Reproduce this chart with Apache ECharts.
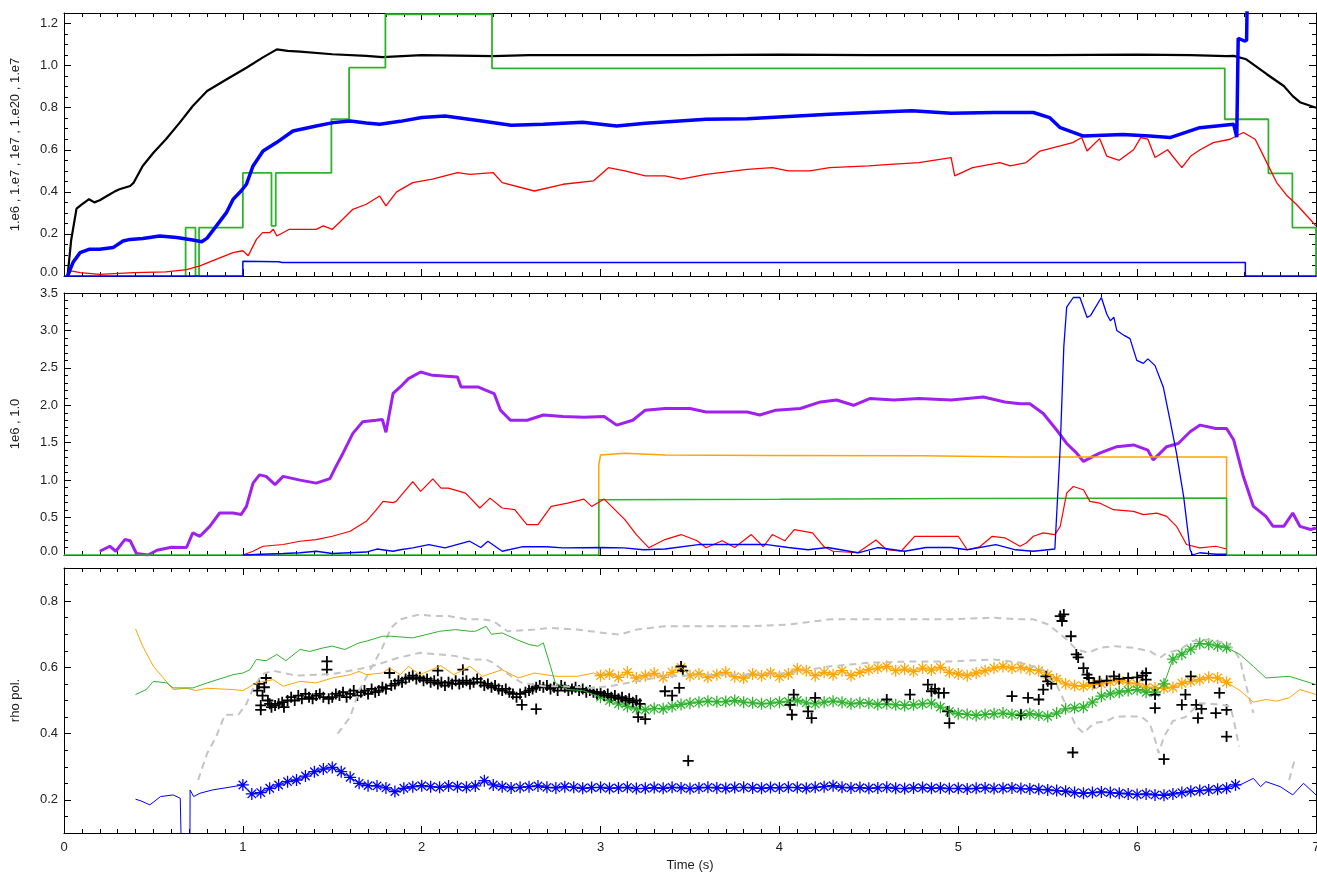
<!DOCTYPE html>
<html>
<head>
<meta charset="utf-8">
<script src="https://cdn.jsdelivr.net/npm/echarts@6/dist/echarts.min.js"></script>
<style>html,body{margin:0;padding:0;background:#fff}#c{width:1317px;height:874px}</style>
</head>
<body>
<div id="c"></div>
<script>
// ---------------- tick labels ----------------
const xMajorTicks = [0,1,2,3,4,5,6,7];
const topYTicks = [0,0.2,0.4,0.6,0.8,1.0,1.2];
const midYTicks = [0,0.5,1.0,1.5,2.0,2.5,3.0,3.5];
const botYTicks = [0.2,0.4,0.6,0.8];
const yNames = ['1.e6 , 1.e7 , 1e7 , 1.e20 , 1.e7', '1e6 , 1.0', 'rho pol.'];
const xName = 'Time (s)';

// ---------------- top panel ----------------
const topBlack = [[0.02,0],[0.04,0.17],[0.07,0.32],[0.1,0.34],[0.125,0.356],[0.14,0.365],[0.17,0.35],[0.2,0.36],[0.24,0.38],[0.28,0.40],[0.31,0.412],[0.37,0.428],[0.39,0.444],[0.44,0.523],[0.5,0.586],[0.57,0.65],[0.647,0.729],[0.72,0.808],[0.8,0.879],[0.91,0.935],[1.02,0.99],[1.11,1.038],[1.19,1.077],[1.25,1.07],[1.32,1.066],[1.5,1.054],[1.69,1.046],[1.78,1.04],[2.0,1.05],[2.4,1.045],[2.6,1.05],[3.0,1.05],[3.5,1.05],[4.0,1.052],[4.5,1.05],[5.0,1.05],[5.5,1.05],[6.0,1.052],[6.3,1.05],[6.5,1.045],[6.54,1.046],[6.61,1.03],[6.725,0.959],[6.82,0.903],[6.87,0.855],[6.91,0.826],[7.0,0.80]];
const topGreen = [[0.68,0],[0.68,0.23],[0.735,0.23],[0.735,0],[0.755,0],[0.755,0.23],[1.0,0.23],[1.0,0.49],[1.16,0.49],[1.16,0.238],[1.184,0.238],[1.184,0.49],[1.495,0.49],[1.495,0.745],[1.594,0.745],[1.594,0.99],[1.797,0.99],[1.797,1.244],[2.393,1.244],[2.393,0.987],[6.49,0.987],[6.49,0.745],[6.734,0.745],[6.734,0.488],[6.868,0.488],[6.868,0.23],[7.0,0.23],[7.0,0]];
const topRed = [[0.02,0],[0.04,0.024],[0.09,0.016],[0.2,0.008],[0.39,0.016],[0.57,0.02],[0.685,0.03],[0.76,0.048],[0.85,0.079],[0.945,0.111],[1.0,0.12],[1.03,0.096],[1.076,0.174],[1.11,0.206],[1.15,0.206],[1.17,0.222],[1.19,0.19],[1.26,0.222],[1.41,0.222],[1.45,0.238],[1.5,0.222],[1.54,0.254],[1.615,0.317],[1.69,0.341],[1.765,0.38],[1.8,0.333],[1.86,0.40],[1.95,0.444],[2.06,0.46],[2.2,0.491],[2.27,0.483],[2.4,0.491],[2.45,0.444],[2.63,0.404],[2.79,0.436],[2.96,0.452],[3.044,0.515],[3.136,0.5],[3.25,0.476],[3.36,0.476],[3.45,0.46],[3.59,0.483],[3.82,0.507],[3.96,0.515],[4.05,0.5],[4.17,0.5],[4.28,0.515],[4.5,0.523],[4.62,0.531],[4.78,0.539],[4.96,0.563],[4.98,0.476],[5.08,0.515],[5.233,0.539],[5.29,0.523],[5.38,0.539],[5.457,0.594],[5.57,0.618],[5.64,0.634],[5.69,0.658],[5.72,0.594],[5.79,0.653],[5.83,0.57],[5.9,0.55],[5.98,0.6],[6.02,0.658],[6.06,0.65],[6.1,0.563],[6.17,0.6],[6.25,0.515],[6.3,0.57],[6.352,0.6],[6.426,0.634],[6.52,0.65],[6.594,0.682],[6.66,0.65],[6.725,0.539],[6.78,0.444],[6.84,0.38],[6.89,0.341],[6.95,0.285],[7.0,0.238]];
const topBlue = [[0.02,0],[0.05,0.064],[0.09,0.111],[0.14,0.127],[0.2,0.127],[0.274,0.135],[0.33,0.166],[0.37,0.174],[0.44,0.178],[0.535,0.19],[0.63,0.183],[0.72,0.171],[0.77,0.163],[0.8,0.18],[0.852,0.238],[0.908,0.301],[0.945,0.364],[0.99,0.404],[1.02,0.436],[1.057,0.523],[1.113,0.594],[1.188,0.634],[1.28,0.689],[1.41,0.713],[1.505,0.729],[1.6,0.737],[1.69,0.727],[1.765,0.721],[1.88,0.735],[2.0,0.753],[2.13,0.76],[2.336,0.737],[2.5,0.716],[2.68,0.721],[2.9,0.731],[3.09,0.713],[3.25,0.726],[3.59,0.745],[3.82,0.747],[4.05,0.758],[4.28,0.769],[4.5,0.777],[4.74,0.785],[4.96,0.774],[5.2,0.777],[5.42,0.777],[5.51,0.753],[5.57,0.705],[5.7,0.665],[5.92,0.673],[6.07,0.665],[6.184,0.658],[6.35,0.705],[6.54,0.721],[6.557,0.66],[6.565,1.13],[6.6,1.117],[6.612,1.12],[6.62,1.6]];
const topBlueLow = [[0,0],[1.0,0],[1.0,0.07],[1.2,0.068],[1.22,0.064],[6.605,0.064],[6.605,0],[7,0]];

// ---------------- middle panel ----------------
const midPurple = [[0.2,0.05],[0.256,0.117],[0.29,0.05],[0.34,0.206],[0.37,0.19],[0.405,0.02],[0.47,0],[0.52,0.064],[0.6,0.104],[0.685,0.1],[0.72,0.295],[0.76,0.25],[0.815,0.383],[0.87,0.561],[0.945,0.561],[0.99,0.54],[1.02,0.649],[1.057,0.96],[1.093,1.07],[1.13,1.05],[1.18,0.94],[1.225,1.05],[1.32,1.0],[1.41,0.96],[1.487,1.02],[1.52,1.18],[1.56,1.36],[1.615,1.625],[1.67,1.78],[1.745,1.8],[1.78,1.81],[1.8,1.64],[1.84,2.16],[1.88,2.245],[1.926,2.356],[1.994,2.444],[2.06,2.40],[2.2,2.378],[2.22,2.245],[2.314,2.245],[2.36,2.2],[2.405,2.157],[2.44,1.935],[2.496,1.80],[2.59,1.8],[2.68,1.87],[2.79,1.85],[2.907,1.84],[3.02,1.85],[3.09,1.735],[3.18,1.80],[3.25,1.935],[3.36,1.957],[3.5,1.957],[3.59,1.91],[3.706,1.91],[3.82,1.91],[3.89,1.87],[3.98,1.935],[4.117,1.957],[4.23,2.045],[4.32,2.07],[4.414,2.0],[4.505,2.09],[4.64,2.07],[4.78,2.09],[4.96,2.07],[5.14,2.11],[5.26,2.045],[5.345,2.02],[5.4,2.02],[5.475,1.89],[5.55,1.67],[5.606,1.49],[5.662,1.36],[5.7,1.25],[5.79,1.36],[5.886,1.447],[5.98,1.47],[6.06,1.40],[6.09,1.27],[6.165,1.447],[6.23,1.49],[6.296,1.646],[6.352,1.735],[6.44,1.69],[6.5,1.69],[6.54,1.536],[6.594,1.048],[6.65,0.649],[6.72,0.516],[6.76,0.383],[6.82,0.383],[6.87,0.561],[6.91,0.383],[6.97,0.34],[7.0,0.36]];
const midOrange = [[2.99,0],[2.99,1.2],[3.0,1.336],[3.135,1.36],[3.36,1.336],[3.93,1.33],[4.8,1.325],[5.34,1.31],[6.5,1.31],[6.5,0]];
const midGreen = [[0,0],[2.99,0],[2.99,0.738],[4.0,0.745],[5.0,0.755],[6.5,0.76],[6.5,0],[7,0]];
const midRed = [[1.0,0],[1.057,0.05],[1.113,0.117],[1.225,0.14],[1.318,0.184],[1.41,0.206],[1.5,0.25],[1.6,0.317],[1.69,0.45],[1.747,0.605],[1.784,0.716],[1.84,0.70],[1.857,0.716],[1.95,0.98],[1.994,0.85],[2.062,1.017],[2.108,0.894],[2.15,0.894],[2.245,0.827],[2.325,0.628],[2.382,0.76],[2.45,0.628],[2.52,0.605],[2.588,0.405],[2.65,0.405],[2.724,0.649],[2.816,0.694],[2.907,0.747],[2.95,0.649],[3.02,0.747],[3.136,0.472],[3.2,0.273],[3.27,0.096],[3.36,0.206],[3.45,0.273],[3.54,0.19],[3.59,0.096],[3.68,0.19],[3.75,0.1],[3.843,0.273],[3.91,0.11],[3.96,0.273],[4.03,0.19],[4.083,0.339],[4.185,0.296],[4.25,0.11],[4.3,0.05],[4.437,0.03],[4.54,0.2],[4.6,0.07],[4.68,0.05],[4.756,0.25],[4.86,0.25],[5.0,0.25],[5.05,0.07],[5.12,0.11],[5.19,0.25],[5.26,0.23],[5.345,0.117],[5.38,0.16],[5.42,0.25],[5.475,0.295],[5.54,0.273],[5.57,0.383],[5.606,0.827],[5.643,0.915],[5.7,0.871],[5.736,0.716],[5.79,0.694],[5.867,0.605],[5.98,0.583],[6.035,0.54],[6.11,0.56],[6.165,0.516],[6.22,0.383],[6.276,0.14],[6.35,0.096],[6.44,0.117],[6.5,0.08]];
const midBlue = [[1.0,0],[1.1,0.01],[1.225,0.02],[1.32,0.03],[1.41,0.05],[1.5,0.02],[1.69,0.04],[1.75,0.08],[1.84,0.05],[1.88,0.07],[1.95,0.096],[2.04,0.14],[2.13,0.096],[2.268,0.184],[2.33,0.1],[2.37,0.184],[2.45,0.05],[2.56,0.11],[2.7,0.11],[2.79,0.096],[3.0,0.1],[3.13,0.096],[3.24,0.07],[3.36,0.08],[3.547,0.14],[3.7,0.14],[3.93,0.14],[4.05,0.1],[4.16,0.07],[4.27,0.1],[4.44,0.03],[4.55,0.1],[4.7,0.05],[4.82,0.1],[4.96,0.1],[5.05,0.07],[5.21,0.14],[5.32,0.07],[5.42,0.05],[5.5,0.07],[5.54,0.08],[5.57,1.447],[5.59,2.78],[5.606,3.31],[5.643,3.44],[5.68,3.44],[5.72,3.175],[5.74,3.2],[5.8,3.44],[5.83,3.22],[5.85,3.13],[5.87,3.175],[5.886,3.0],[5.93,2.93],[5.96,2.89],[5.998,2.6],[6.035,2.56],[6.06,2.62],[6.1,2.53],[6.146,2.245],[6.184,1.80],[6.22,1.36],[6.26,0.78],[6.296,0.07],[6.31,0],[6.35,0.03],[6.44,0.01],[6.5,0.01]];

// ---------------- bottom panel ----------------
const botOrangeA = [[0.4,0.716],[0.44,0.664],[0.5,0.603],[0.54,0.578],[0.61,0.533],[0.685,0.537],[0.74,0.53],[0.8,0.537],[0.945,0.533],[1.0,0.53],[1.076,0.553],[1.17,0.563],[1.225,0.543],[1.32,0.558],[1.41,0.553],[1.5,0.568],[1.6,0.578],[1.65,0.588],[1.69,0.578],[1.78,0.583],[1.82,0.598],[1.88,0.578],[1.926,0.603],[1.99,0.578],[2.107,0.605],[2.18,0.578],[2.27,0.603],[2.34,0.573],[2.45,0.593],[2.54,0.568],[2.63,0.583],[2.75,0.573],[2.87,0.573],[2.96,0.583]];
const orangeStars = [[3.00,0.575],[3.05,0.58],[3.10,0.57],[3.15,0.585],[3.20,0.568],[3.25,0.575],[3.30,0.582],[3.35,0.57],[3.40,0.585],[3.45,0.60],[3.50,0.575],[3.55,0.58],[3.60,0.57],[3.65,0.578],[3.70,0.585],[3.75,0.572],[3.80,0.568],[3.85,0.58],[3.90,0.575],[3.95,0.583],[4.00,0.572],[4.05,0.58],[4.10,0.595],[4.15,0.59],[4.20,0.575],[4.25,0.585],[4.30,0.578],[4.35,0.59],[4.40,0.575],[4.45,0.585],[4.50,0.593],[4.55,0.598],[4.60,0.603],[4.65,0.59],[4.70,0.595],[4.75,0.588],[4.80,0.598],[4.85,0.592],[4.90,0.6],[4.95,0.585],[5.00,0.58],[5.05,0.575],[5.10,0.583],[5.15,0.59],[5.20,0.598],[5.25,0.603],[5.30,0.598],[5.35,0.6],[5.40,0.593],[5.45,0.59],[5.50,0.578],[5.55,0.565],[5.60,0.55],[5.65,0.545],[5.70,0.543],[5.75,0.548],[5.80,0.55],[5.85,0.556],[5.90,0.56],[5.95,0.553],[6.00,0.55],[6.05,0.54],[6.10,0.538],[6.15,0.537],[6.20,0.54],[6.25,0.552],[6.30,0.558],[6.35,0.563],[6.40,0.57],[6.45,0.568],[6.50,0.555]];
const botOrangeB = [[6.575,0.53],[6.65,0.495],[6.72,0.503],[6.78,0.498],[6.85,0.508],[6.91,0.533],[7.0,0.518]];
const botGreenA = [[0.4,0.518],[0.46,0.533],[0.5,0.558],[0.575,0.553],[0.61,0.538],[0.72,0.538],[0.8,0.553],[0.945,0.578],[1.0,0.583],[1.04,0.593],[1.076,0.624],[1.13,0.62],[1.19,0.639],[1.24,0.62],[1.32,0.654],[1.375,0.648],[1.45,0.659],[1.5,0.664],[1.57,0.654],[1.65,0.674],[1.69,0.679],[1.78,0.694],[1.83,0.694],[1.95,0.689],[2.1,0.709],[2.19,0.714],[2.27,0.709],[2.3,0.709],[2.36,0.724],[2.39,0.70],[2.45,0.704],[2.53,0.684],[2.6,0.669],[2.65,0.664],[2.68,0.674],[2.72,0.603],[2.747,0.553],[2.816,0.533],[2.9,0.53],[2.96,0.518]];
const greenStars = [[3.00,0.51],[3.05,0.5],[3.10,0.49],[3.15,0.482],[3.20,0.475],[3.25,0.472],[3.30,0.476],[3.35,0.475],[3.40,0.482],[3.45,0.488],[3.50,0.492],[3.55,0.495],[3.60,0.498],[3.65,0.496],[3.70,0.497],[3.75,0.5],[3.80,0.495],[3.85,0.493],[3.90,0.49],[3.95,0.492],[4.00,0.495],[4.05,0.497],[4.10,0.5],[4.15,0.493],[4.20,0.49],[4.25,0.495],[4.30,0.498],[4.35,0.495],[4.40,0.49],[4.45,0.493],[4.50,0.492],[4.55,0.488],[4.60,0.49],[4.65,0.487],[4.70,0.485],[4.75,0.487],[4.80,0.49],[4.85,0.492],[4.90,0.48],[4.95,0.467],[5.00,0.46],[5.05,0.458],[5.10,0.455],[5.15,0.458],[5.20,0.46],[5.25,0.462],[5.30,0.458],[5.35,0.457],[5.40,0.46],[5.45,0.456],[5.50,0.452],[5.55,0.462],[5.60,0.475],[5.65,0.478],[5.70,0.48],[5.75,0.495],[5.80,0.513],[5.85,0.52],[5.90,0.525],[5.95,0.53],[6.00,0.533],[6.05,0.525],[6.10,0.525],[6.15,0.55],[6.20,0.625],[6.25,0.64],[6.30,0.655],[6.35,0.672],[6.40,0.67],[6.45,0.665],[6.50,0.66]];
const botGreenB = [[6.575,0.639],[6.65,0.603],[6.72,0.568],[6.85,0.573],[7.0,0.548]];
const botBlueA = [[0.4,0.202],[0.43,0.197],[0.48,0.185],[0.54,0.21],[0.61,0.215],[0.65,0.205],[0.655,0.207],[0.656,0.05],[0.704,0.05],[0.705,0.23],[0.725,0.21],[0.76,0.22],[0.83,0.23],[0.945,0.24]];
const blueStars = [[1.00,0.245],[1.05,0.218],[1.10,0.222],[1.15,0.235],[1.20,0.245],[1.25,0.255],[1.30,0.26],[1.35,0.272],[1.40,0.285],[1.45,0.293],[1.50,0.298],[1.55,0.285],[1.60,0.268],[1.65,0.25],[1.70,0.243],[1.75,0.242],[1.80,0.236],[1.85,0.225],[1.90,0.235],[1.95,0.24],[2.00,0.243],[2.05,0.24],[2.10,0.238],[2.15,0.242],[2.20,0.24],[2.25,0.238],[2.30,0.242],[2.35,0.258],[2.40,0.245],[2.45,0.24],[2.50,0.236],[2.55,0.238],[2.60,0.24],[2.65,0.242],[2.70,0.238],[2.75,0.236],[2.80,0.24],[2.85,0.238],[2.90,0.235],[2.95,0.237],[3.00,0.238],[3.05,0.235],[3.10,0.236],[3.15,0.238],[3.20,0.234],[3.25,0.235],[3.30,0.237],[3.35,0.235],[3.40,0.238],[3.45,0.236],[3.50,0.234],[3.55,0.236],[3.60,0.238],[3.65,0.236],[3.70,0.235],[3.75,0.237],[3.80,0.238],[3.85,0.236],[3.90,0.235],[3.95,0.237],[4.00,0.236],[4.05,0.238],[4.10,0.237],[4.15,0.235],[4.20,0.238],[4.25,0.24],[4.30,0.243],[4.35,0.238],[4.40,0.236],[4.45,0.237],[4.50,0.235],[4.55,0.236],[4.60,0.238],[4.65,0.235],[4.70,0.234],[4.75,0.236],[4.80,0.237],[4.85,0.235],[4.90,0.236],[4.95,0.234],[5.00,0.235],[5.05,0.233],[5.10,0.235],[5.15,0.236],[5.20,0.234],[5.25,0.235],[5.30,0.236],[5.35,0.234],[5.40,0.233],[5.45,0.232],[5.50,0.23],[5.55,0.228],[5.60,0.226],[5.65,0.222],[5.70,0.22],[5.75,0.222],[5.80,0.224],[5.85,0.222],[5.90,0.22],[5.95,0.218],[6.00,0.216],[6.05,0.218],[6.10,0.215],[6.15,0.214],[6.20,0.218],[6.25,0.222],[6.30,0.226],[6.35,0.228],[6.40,0.23],[6.45,0.232],[6.50,0.235],[6.55,0.245]];
const botBlueB = [[6.575,0.245],[6.65,0.265],[6.69,0.24],[6.72,0.255],[6.8,0.24],[6.87,0.215],[6.93,0.25],[7.0,0.215]];
const greyUpper = [[1.53,0.40],[1.6,0.45],[1.65,0.53],[1.72,0.60],[1.78,0.66],[1.83,0.72],[1.88,0.745],[1.99,0.76],[2.06,0.755],[2.15,0.755],[2.25,0.745],[2.34,0.745],[2.4,0.74],[2.48,0.709],[2.63,0.714],[2.72,0.719],[2.87,0.714],[3.02,0.704],[3.11,0.699],[3.2,0.714],[3.36,0.724],[3.59,0.724],[3.82,0.724],[4.05,0.729],[4.28,0.745],[4.5,0.745],[4.74,0.745],[4.96,0.745],[5.2,0.75],[5.345,0.745],[5.42,0.745],[5.5,0.73],[5.55,0.709],[5.606,0.684],[5.66,0.654],[5.73,0.644],[5.79,0.659],[5.88,0.664],[5.98,0.659],[6.07,0.649],[6.13,0.63],[6.165,0.644],[6.24,0.654],[6.31,0.679],[6.39,0.684],[6.5,0.674],[6.54,0.654],[6.575,0.624],[6.61,0.543],[6.65,0.462]];
const greyLower = [[0.75,0.26],[0.8,0.34],[0.85,0.39],[0.9,0.457],[0.975,0.457],[1.02,0.49],[1.06,0.54],[1.11,0.58],[1.17,0.59],[1.3,0.575],[1.5,0.58],[1.7,0.6],[1.87,0.629],[1.99,0.644],[2.1,0.639],[2.19,0.634],[2.27,0.624],[2.36,0.624],[2.4,0.614],[2.45,0.593],[2.5,0.573],[2.56,0.553],[2.68,0.543],[2.79,0.543],[2.96,0.538],[3.05,0.543],[3.15,0.553],[3.25,0.563],[3.36,0.573],[3.59,0.578],[3.82,0.578],[4.05,0.583],[4.28,0.603],[4.5,0.614],[4.74,0.618],[4.96,0.618],[5.2,0.624],[5.345,0.614],[5.42,0.603],[5.475,0.593],[5.5,0.568],[5.55,0.548],[5.606,0.482],[5.66,0.422],[5.7,0.402],[5.76,0.432],[5.83,0.438],[5.88,0.452],[6.02,0.452],[6.07,0.432],[6.1,0.382],[6.12,0.341],[6.15,0.39],[6.2,0.438],[6.27,0.45],[6.35,0.492],[6.46,0.488],[6.52,0.482],[6.54,0.442],[6.57,0.361]];
const greyTail = [[6.85,0.26],[6.88,0.32]];
const blackCrosses = [[1.08,0.53],[1.09,0.55],[1.10,0.485],[1.10,0.472],[1.11,0.515],[1.12,0.54],[1.13,0.568],[1.14,0.50],[1.15,0.49],[1.16,0.48],[1.18,0.485],[1.20,0.49],[1.22,0.495],[1.23,0.48],[1.25,0.50],[1.27,0.51],[1.29,0.50],[1.31,0.515],[1.33,0.505],[1.35,0.52],[1.37,0.51],[1.39,0.505],[1.41,0.515],[1.43,0.52],[1.45,0.51],[1.47,0.618],[1.47,0.593],[1.48,0.505],[1.50,0.51],[1.52,0.52],[1.54,0.515],[1.56,0.525],[1.58,0.51],[1.60,0.52],[1.62,0.53],[1.64,0.515],[1.66,0.525],[1.68,0.53],[1.70,0.52],[1.72,0.535],[1.74,0.525],[1.76,0.53],[1.78,0.54],[1.80,0.535],[1.82,0.583],[1.83,0.545],[1.85,0.55],[1.87,0.56],[1.89,0.555],[1.91,0.565],[1.93,0.57],[1.95,0.575],[1.97,0.565],[1.99,0.57],[2.01,0.56],[2.03,0.565],[2.05,0.555],[2.07,0.56],[2.09,0.59],[2.09,0.55],[2.11,0.555],[2.13,0.545],[2.15,0.555],[2.17,0.55],[2.19,0.56],[2.21,0.55],[2.23,0.593],[2.23,0.555],[2.25,0.56],[2.27,0.55],[2.29,0.555],[2.31,0.565],[2.33,0.555],[2.35,0.545],[2.37,0.55],[2.39,0.54],[2.41,0.545],[2.43,0.535],[2.45,0.53],[2.47,0.535],[2.49,0.525],[2.51,0.52],[2.53,0.51],[2.55,0.52],[2.56,0.487],[2.58,0.525],[2.60,0.53],[2.62,0.535],[2.64,0.474],[2.64,0.54],[2.66,0.545],[2.68,0.54],[2.70,0.545],[2.72,0.535],[2.74,0.54],[2.76,0.53],[2.78,0.545],[2.80,0.54],[2.82,0.53],[2.84,0.535],[2.86,0.54],[2.88,0.53],[2.90,0.535],[2.92,0.525],[2.94,0.53],[2.96,0.525],[2.98,0.52],[3.00,0.525],[3.02,0.515],[3.04,0.52],[3.06,0.51],[3.08,0.515],[3.10,0.505],[3.12,0.51],[3.14,0.5],[3.16,0.505],[3.18,0.495],[3.20,0.5],[3.21,0.45],[3.22,0.49],[3.25,0.444],[3.36,0.528],[3.4,0.515],[3.44,0.538],[3.45,0.603],[3.46,0.59],[3.49,0.318],[4.06,0.487],[4.07,0.457],[4.08,0.518],[4.16,0.467],[4.18,0.447],[4.2,0.508],[4.6,0.503],[4.73,0.518],[4.83,0.548],[4.85,0.528],[4.87,0.535],[4.89,0.523],[4.92,0.523],[4.94,0.467],[4.95,0.432],[5.3,0.513],[5.35,0.457],[5.39,0.508],[5.45,0.503],[5.475,0.533],[5.49,0.573],[5.5,0.558],[5.52,0.55],[5.57,0.755],[5.58,0.74],[5.59,0.76],[5.63,0.694],[5.64,0.343],[5.66,0.639],[5.67,0.63],[5.7,0.598],[5.72,0.578],[5.73,0.568],[5.76,0.553],[5.79,0.558],[5.83,0.56],[5.87,0.573],[5.9,0.565],[5.95,0.568],[6.0,0.57],[6.03,0.575],[6.05,0.583],[6.05,0.563],[6.1,0.518],[6.1,0.477],[6.15,0.323],[6.25,0.487],[6.27,0.518],[6.3,0.573],[6.33,0.487],[6.34,0.447],[6.36,0.475],[6.44,0.462],[6.46,0.523],[6.5,0.472],[6.5,0.391]];

// ---------------- styling / layout ----------------
const FONT = 'Liberation Sans, Arial, Helvetica, sans-serif';
const C = {black:'#000000', green:'#2db42d', blue:'#0000ff', red:'#ff0000', purple:'#a020f0', orange:'#ffa500', grey:'#c4c4c4'};
const grids = [
  {left:64, right:1, top:13, height:263, outerBoundsMode:'none', containLabel:false},
  {left:64, right:1, top:293, height:262, outerBoundsMode:'none', containLabel:false},
  {left:64, right:1, top:568, height:265, outerBoundsMode:'none', containLabel:false}
];
const yRanges = [[0,1.25],[0,3.5],[0.1,0.9]];
const yMajors = [topYTicks, midYTicks, botYTicks];
const yMinorStep = [0.05, 0.1, 0.05];

function minorVals(lo, hi, step, majors){
  const out = []; const n = Math.round((hi-lo)/step);
  for (let i=0;i<=n;i++){ const v = +(lo+i*step).toFixed(4);
    if (v<=lo+1e-9 || v>=hi-1e-9) continue;
    if (!majors.some(m=>Math.abs(m-v)<1e-6)) out.push(v); }
  return out;
}
const axLine = {color:'#000', width:1};
const xAxes = [], yAxes = [];
grids.forEach((g, gi) => {
  const xMinor = minorVals(0,7,0.1,xMajorTicks);
  const base = {gridIndex:gi, type:'value', min:0, max:7, splitLine:{show:false}, axisPointer:{show:false}};
  const showLab = gi === 2;
  xAxes.push(Object.assign({}, base, {position:'bottom',
    axisLine:{show:true,onZero:false,lineStyle:axLine},
    axisTick:{show:true,inside:true,length:7,customValues:xMajorTicks,lineStyle:axLine},
    axisLabel:{show:showLab, customValues:xMajorTicks, margin:8, fontSize:13, color:'#222', fontFamily:FONT, formatter:v=>String(v), hideOverlap:false},
    name: showLab ? xName : '', nameLocation:'middle', nameGap:26, nameTextStyle:{fontSize:13, color:'#222', fontFamily:FONT}}));
  xAxes.push(Object.assign({}, base, {position:'bottom', axisLine:{show:false,onZero:false},
    axisTick:{show:true,inside:true,length:4,customValues:xMinor,lineStyle:axLine}, axisLabel:{show:false}}));
  xAxes.push(Object.assign({}, base, {position:'top', axisLine:{show:true,onZero:false,lineStyle:axLine},
    axisTick:{show:true,inside:true,length:7,customValues:xMajorTicks,lineStyle:axLine}, axisLabel:{show:false}}));
  xAxes.push(Object.assign({}, base, {position:'top', axisLine:{show:false,onZero:false},
    axisTick:{show:true,inside:true,length:4,customValues:xMinor,lineStyle:axLine}, axisLabel:{show:false}}));

  const [lo, hi] = yRanges[gi];
  const maj = yMajors[gi];
  const yMinor = minorVals(lo, hi, yMinorStep[gi], maj);
  const yb = {gridIndex:gi, type:'value', min:lo, max:hi, splitLine:{show:false}, axisPointer:{show:false}};
  yAxes.push(Object.assign({}, yb, {position:'left',
    axisLine:{show:true,onZero:false,lineStyle:axLine},
    axisTick:{show:true,inside:true,length:7,customValues:maj,lineStyle:axLine},
    axisLabel:{show:true, customValues:maj, margin:6, fontSize:13, color:'#222', fontFamily:FONT,
      formatter: v => (Math.abs(v)<1e-9 && gi<2) ? '{z|0.0}' : v.toFixed(1),
      rich:{z:{padding:[0,0,8,0], fontSize:13, color:'#222', fontFamily:FONT}}},
    name: yNames[gi], nameLocation:'middle', nameRotate:90, nameGap:42,
    nameTextStyle:{fontSize:13, color:'#222', fontFamily:FONT}}));
  yAxes.push(Object.assign({}, yb, {position:'left', axisLine:{show:false,onZero:false},
    axisTick:{show:true,inside:true,length:4,customValues:yMinor,lineStyle:axLine}, axisLabel:{show:false}}));
  yAxes.push(Object.assign({}, yb, {position:'right', axisLine:{show:true,onZero:false,lineStyle:axLine},
    axisTick:{show:true,inside:true,length:7,customValues:maj,lineStyle:axLine}, axisLabel:{show:false}}));
  yAxes.push(Object.assign({}, yb, {position:'right', axisLine:{show:false,onZero:false},
    axisTick:{show:true,inside:true,length:4,customValues:yMinor,lineStyle:axLine}, axisLabel:{show:false}}));
});

function line(gi, data, color, width, opts){
  return Object.assign({type:'line', xAxisIndex:gi*4, yAxisIndex:gi*4, data:data, symbol:'none', showSymbol:false,
    lineStyle:{color:color, width:width}, itemStyle:{color:color}, animation:false, silent:true, clip:true}, opts||{});
}
const PLUS = 'path://M0 5H10M5 0V10';
const STAR = 'path://M5 0V10M0 5H10M1.5 1.5L8.5 8.5M1.5 8.5L8.5 1.5';
function scatter(gi, data, color, sym, size, bw){
  return {type:'scatter', xAxisIndex:gi*4, yAxisIndex:gi*4, data:data, symbol:sym, symbolSize:size,
    itemStyle:{color:color, borderColor:color, borderWidth:bw, opacity:1}, animation:false, silent:true, clip:true};
}
const dashed = {color:C.grey, width:2, type:[7,5]};

const series = [
  line(0, topBlack, C.black, 2.2),
  line(0, topGreen, C.green, 1.8, {clip:false}),
  line(0, topRed, C.red, 1.3),
  line(0, topBlue, C.blue, 3.5),
  line(0, topBlueLow, C.blue, 1.5, {clip:false}),

  line(1, midPurple, C.purple, 3),
  line(1, midOrange, C.orange, 1.5, {clip:false}),
  line(1, midGreen, C.green, 1.5, {clip:false}),
  line(1, midRed, C.red, 1.2),
  line(1, midBlue, C.blue, 1.3),

  line(2, greyUpper, C.grey, 2, {lineStyle:dashed}),
  line(2, greyLower, C.grey, 2, {lineStyle:dashed}),
  line(2, greyTail, C.grey, 2, {lineStyle:dashed}),
  line(2, botOrangeA.concat(orangeStars, botOrangeB), C.orange, 1),
  line(2, botGreenA.concat(greenStars, botGreenB), C.green, 1),
  line(2, botBlueA.concat(blueStars, botBlueB), C.blue, 1),
  scatter(2, orangeStars, C.orange, STAR, 12, 1.3),
  scatter(2, greenStars, C.green, STAR, 12, 1.3),
  scatter(2, blueStars, C.blue, STAR, 12, 1.3),
  scatter(2, blackCrosses, C.black, PLUS, 11, 1.8)
];

const chart = echarts.init(document.getElementById('c'), null, {renderer:'canvas', width:1317, height:874});
chart.setOption({
  backgroundColor:'#ffffff',
  animation:false,
  grid: grids,
  xAxis: xAxes,
  yAxis: yAxes,
  series: series
});
</script>
</body>
</html>
